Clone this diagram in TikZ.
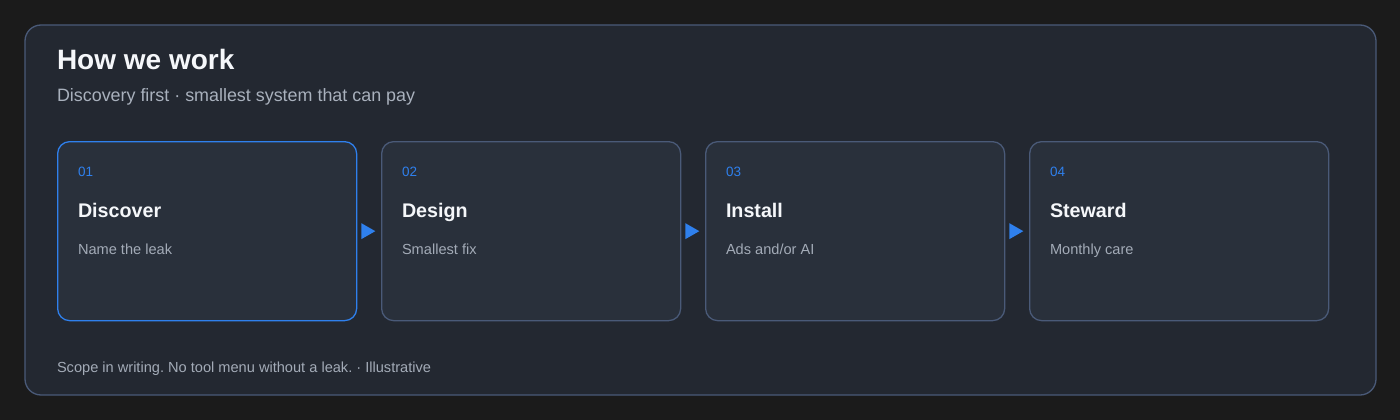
\documentclass[tikz,border=0pt]{standalone}
\usepackage{fontspec}
\setmainfont{Liberation Sans}
\frenchspacing
\definecolor{bgc}{HTML}{1B1B1B}
\definecolor{panelc}{HTML}{232831}
\definecolor{cardc}{HTML}{29303B}
\definecolor{edgec}{HTML}{4A5A78}
\definecolor{bluec}{HTML}{2F80ED}
\definecolor{titlec}{HTML}{F5F7FA}
\definecolor{subc}{HTML}{A9B1BD}
\definecolor{bodyc}{HTML}{A3ABB7}
\tikzset{
  panel/.style={draw=edgec, line width=1.3pt, fill=panelc, rounded corners=16pt},
  card/.style={draw=edgec, line width=1.3pt, fill=cardc, rounded corners=12pt, minimum width=299pt, minimum height=179pt, inner sep=0pt, anchor=north west},
  activecard/.style={card, draw=bluec},
  txt/.style={anchor=base west, inner sep=0pt, outer sep=0pt},
  numtxt/.style={txt, text=bluec, font=\fontsize{13.5}{15}\selectfont},
  headtxt/.style={txt, text=titlec, font=\fontsize{19.7}{23}\selectfont\bfseries},
  bodytxt/.style={txt, text=bodyc, font=\fontsize{14.6}{17}\selectfont},
  arrowtri/.style={fill=bluec},
}
\begin{document}
\begin{tikzpicture}[x=1pt,y=-1pt]
\useasboundingbox (0,0) rectangle (1400,420);
\fill[bgc] (0,0) rectangle (1400,420);
\draw[panel] (25,25) rectangle (1376,395);
\node[txt, text=titlec, font=\fontsize{28}{32}\selectfont\bfseries] (title) at (57,70) {How we work};
\node[txt, text=subc, font=\fontsize{17.9}{20}\selectfont] (sub) at (57,101) {Discovery first · smallest system that can pay};

\node[activecard] (c1) at (57,141) {};
\node[card] (c2) at (381,141) {};
\node[card] (c3) at (705,141) {};
\node[card] (c4) at (1029,141) {};

\foreach \c/\n/\h/\b in {c1/01/Discover/{Name the leak}, c2/02/Design/{Smallest fix}, c3/03/Install/{Ads and/or AI}, c4/04/Steward/{Monthly care}}{
  \node[numtxt] (\c-num) at ([xshift=21pt,yshift=-35pt]\c.north west) {\n};
  \node[headtxt] (\c-head) at ([xshift=21pt,yshift=-76pt]\c.north west) {\h};
  \node[bodytxt] (\c-body) at ([xshift=21pt,yshift=-113pt]\c.north west) {\b};
}

\foreach \a in {c1,c2,c3}{
  \fill[arrowtri] ([xshift=4pt,yshift=8pt]\a.east) -- ++(14,8) -- ++(-14,8) -- cycle;
}

\node[txt, text=bodyc, font=\fontsize{14.6}{17}\selectfont] (foot) at (57,372) {Scope in writing. No tool menu without a leak. · Illustrative};
\end{tikzpicture}
\end{document}
